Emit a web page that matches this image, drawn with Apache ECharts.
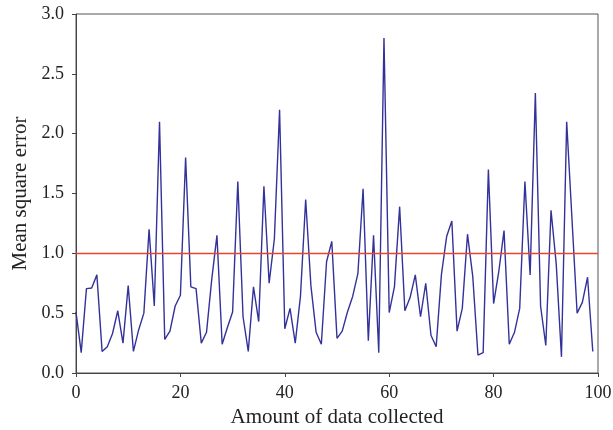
<!DOCTYPE html>
<html>
<head>
<meta charset="utf-8">
<script src="https://cdn.jsdelivr.net/npm/echarts@6/dist/echarts.min.js"></script>
<style>
html, body { margin: 0; padding: 0; background: #fff; }
#chart { width: 613px; height: 430px; }
</style>
</head>
<body>
<div id="chart"></div>
<script>
// mean square error per sample, x = 0..99
const mse = [
    0.51, 0.17, 0.705, 0.71, 0.82, 0.18, 0.22, 0.33, 0.52, 0.25,
    0.73, 0.18, 0.36, 0.50, 1.20, 0.56, 2.10, 0.28, 0.35, 0.56,
    0.65, 1.80, 0.72, 0.705, 0.25, 0.34, 0.78, 1.15, 0.24, 0.38,
    0.51, 1.60, 0.47, 0.18, 0.72, 0.43, 1.56, 0.75, 1.12, 2.20,
    0.37, 0.54, 0.25, 0.64, 1.45, 0.73, 0.34, 0.24, 0.93, 1.10,
    0.29, 0.35, 0.51, 0.64, 0.83, 1.54, 0.27, 1.15, 0.17, 2.80,
    0.505, 0.72, 1.39, 0.52, 0.63, 0.82, 0.47, 0.75, 0.315, 0.22,
    0.82, 1.14, 1.27, 0.35, 0.54, 1.16, 0.81, 0.15, 0.17, 1.70,
    0.58, 0.85, 1.19, 0.24, 0.34, 0.54, 1.60, 0.82, 2.34, 0.56,
    0.23, 1.36, 0.91, 0.135, 2.10, 1.30, 0.50, 0.59, 0.80, 0.18
];
const threshold = 1.0;
const xTicks = [0, 20, 40, 60, 80, 100];
const yTicks = [0.0, 0.5, 1.0, 1.5, 2.0, 2.5, 3.0];

const points = mse.map((v, i) => [i, v]);
const font = 'Liberation Serif';

const myChart = echarts.init(document.getElementById('chart'));
const option = {
    animation: false,
    grid: {
        left: 76, right: 15, top: 14, bottom: 57,
        outerBoundsMode: 'none',
        show: true, borderColor: '#555', borderWidth: 1
    },
    xAxis: {
        type: 'value',
        min: xTicks[0],
        max: xTicks[xTicks.length - 1],
        interval: 20,
        name: 'Amount of data collected',
        nameLocation: 'middle',
        nameGap: 33,
        nameTextStyle: { fontFamily: font, fontSize: 21, color: '#222' },
        axisLine: { lineStyle: { color: '#444', width: 1 } },
        axisTick: { show: true, length: 4, lineStyle: { color: '#444' } },
        axisLabel: { fontFamily: font, fontSize: 18, color: '#222', margin: 11 },
        splitLine: { show: false }
    },
    yAxis: {
        type: 'value',
        min: yTicks[0],
        max: yTicks[yTicks.length - 1],
        interval: 0.5,
        name: 'Mean square error',
        nameLocation: 'middle',
        nameGap: 43,
        nameTextStyle: { fontFamily: font, fontSize: 21, color: '#222' },
        axisLine: { show: true, lineStyle: { color: '#444', width: 1 } },
        axisTick: { show: true, length: 4, lineStyle: { color: '#444' } },
        axisLabel: {
            fontFamily: font, fontSize: 18, color: '#222', margin: 12,
            formatter: v => v.toFixed(1)
        },
        splitLine: { show: false }
    },
    series: [
        {
            type: 'line',
            data: points,
            symbol: 'none',
            lineStyle: { color: '#32329a', width: 1.4 },
            markLine: {
                silent: true,
                symbol: 'none',
                label: { show: false },
                lineStyle: { color: '#e8442e', width: 1.3, type: 'solid' },
                data: [{ yAxis: threshold }]
            }
        }
    ]
};
myChart.setOption(option);
</script>
</body>
</html>
